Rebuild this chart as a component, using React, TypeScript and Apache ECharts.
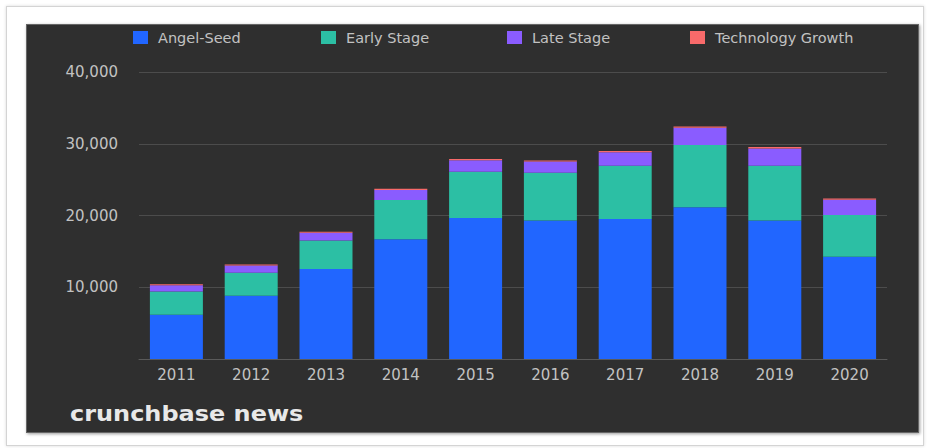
import React, { useEffect, useRef } from "react";
import * as echarts from "echarts";

const years = ["2011", "2012", "2013", "2014", "2015", "2016", "2017", "2018", "2019", "2020"];
const angelSeed = [6150, 8800, 12550, 16700, 19650, 19300, 19500, 21150, 19300, 14250];
const earlyStage = [3270, 3230, 3980, 5450, 6450, 6670, 7440, 8680, 7640, 5820];
const lateStage = [850, 1000, 1060, 1420, 1600, 1550, 1880, 2400, 2400, 2130];
const techGrowth = [150, 150, 150, 160, 170, 160, 170, 190, 210, 180];
const seriesNames = ["Angel-Seed", "Early Stage", "Late Stage", "Technology Growth"];
const seriesColors = ["#2166FF", "#2CBFA4", "#8A5CFF", "#F86A6A"];
const legendLefts = [133, 321, 507, 690];

export default function App() {
  const ref = useRef<HTMLDivElement>(null);
  useEffect(() => {
    document.body.style.margin = "0";
    const chart = echarts.init(ref.current!, null, { renderer: "svg" });
    const values = [angelSeed, earlyStage, lateStage, techGrowth];
    const font = "DejaVu Sans";
    chart.setOption({
      animation: false,
      backgroundColor: "transparent",
      textStyle: { fontFamily: font },
      legend: seriesNames.map((n, i) => ({
        data: [n],
        left: legendLefts[i],
        top: 30,
        padding: 0,
        itemWidth: 15,
        itemHeight: 13,
        icon: "rect",
        selectedMode: false,
        textStyle: { color: "#c2c2c2", fontSize: 14.5, fontFamily: font, padding: [0, 0, 0, 5] },
      })),
      grid: { left: 139, right: 42, top: 72, bottom: 89, containLabel: false },
      xAxis: {
        type: "category",
        data: years,
        axisLine: { lineStyle: { color: "#5a5a5a", width: 1 } },
        axisTick: { show: false },
        axisLabel: { color: "#c2c2c2", fontSize: 15, margin: 8, fontFamily: font },
      },
      yAxis: {
        type: "value",
        min: 0,
        max: 40000,
        interval: 10000,
        axisLine: { show: false },
        axisTick: { show: false },
        axisLabel: {
          color: "#c2c2c2",
          fontSize: 15,
          margin: 21,
          fontFamily: font,
          formatter: (v: number) => (v === 0 ? "" : v.toLocaleString("en-US")),
        },
        splitLine: { lineStyle: { color: "#4c4c4c", width: 1 } },
      },
      series: seriesNames.map((n, i) => ({
        name: n,
        type: "bar",
        stack: "total",
        barWidth: 53,
        data: values[i],
        itemStyle: { color: seriesColors[i] },
      })),
      graphic: [
        {
          type: "text",
          left: 70,
          top: 402,
          scaleX: 1.09,
          style: {
            text: "crunchbase news",
            fill: "#e8e8e8",
            fontSize: 22,
            fontWeight: "bold",
            fontFamily: font,
          },
        },
      ],
    });
    return () => chart.dispose();
  }, []);

  return (
    <div style={{ position: "absolute", left: 0, top: 0, width: 929, height: 448, background: "#ffffff", overflow: "hidden" }}>
      <div
        style={{
          position: "absolute",
          left: 6,
          top: 6,
          width: 916,
          height: 438,
          border: "1px solid #d4d4d4",
          boxShadow: "0 0 3px rgba(0,0,0,0.15)",
          background: "#ffffff",
        }}
      />
      <div
        style={{
          position: "absolute",
          left: 26,
          top: 24,
          width: 891,
          height: 407,
          background: "#2f2f2f",
          border: "1px solid #666",
          boxShadow: "1px 1px 3px rgba(0,0,0,0.4)",
        }}
      />
      <div ref={ref} style={{ position: "absolute", left: 0, top: 0, width: 929, height: 448 }} />
    </div>
  );
}
